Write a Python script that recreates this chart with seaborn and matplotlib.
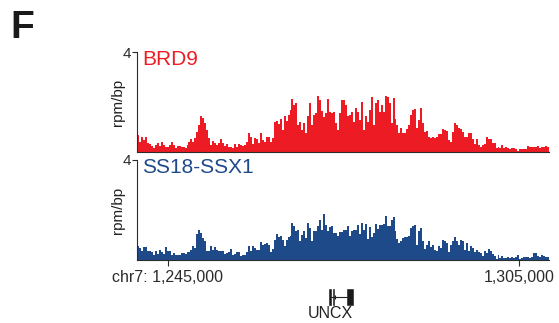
import numpy as np
import pandas as pd
import seaborn as sns
import matplotlib
matplotlib.use("Agg")
import matplotlib.pyplot as plt

# ---------------- data ----------------
region_start = 1239760
region_end = 1310120
x_ticks = [1245000, 1305000]
x_tick_labels = ["chr7: 1,245,000", "1,305,000"]

track_names = ["BRD9", "SS18-SSX1"]
track_colors = ["#ED1C24", "#1F4A8A"]

brd9 = [
    0.68, 0.41, 0.60, 0.48, 0.60, 0.35, 0.32, 0.24, 0.15, 0.28,
    0.37, 0.24, 0.39, 0.28, 0.21, 0.19, 0.28, 0.39, 0.28, 0.15,
    0.24, 0.24, 0.19, 0.21, 0.15, 0.28, 0.41, 0.51, 0.41, 0.55,
    0.81, 1.08, 1.44, 1.35, 1.17, 0.88, 0.55, 0.28, 0.44, 0.35,
    0.28, 0.37, 0.52, 0.35, 0.24, 0.32, 0.21, 0.19, 0.15, 0.31,
    0.21, 0.32,
    0.28, 0.24, 0.28, 0.41, 0.75, 0.61, 0.32, 0.57, 0.51, 0.35,
    0.75, 0.48, 0.41, 0.61, 0.61, 0.41, 0.55, 1.21, 1.24, 1.11,
    1.31, 0.88, 1.44, 1.24, 1.48, 1.68, 2.11, 1.88, 1.97, 1.08,
    1.21, 0.88, 1.15, 0.75, 1.44, 1.95, 1.08, 1.48, 1.57, 2.24,
    2.08, 1.65, 1.41, 1.55, 2.11, 1.61, 1.57, 1.61, 1.15, 0.88,
    1.55, 2.08,
    2.08, 1.88, 1.44, 1.48, 1.61, 1.21, 1.75, 1.61, 1.28, 1.99,
    0.88, 1.44, 1.19, 1.68, 2.19, 1.08, 1.95, 2.08, 1.61, 1.88,
    1.61, 2.24, 2.19, 1.97, 1.15, 2.15, 1.31, 1.08, 0.75, 0.95,
    0.77, 0.75, 0.91, 1.08, 1.48, 1.68, 1.71, 0.95, 1.28, 1.75,
    1.15, 0.81, 0.85, 0.61, 0.55, 0.61, 0.55, 0.61, 0.71, 0.71,
    0.91, 0.88,
    0.85, 0.48, 0.41, 0.81, 1.17, 1.08, 0.95, 0.91, 0.79, 0.61,
    0.59, 0.75, 0.77, 0.51, 0.32, 0.51, 0.28, 0.21, 0.28, 0.31,
    0.59, 0.51, 0.51, 0.35, 0.35, 0.15, 0.19, 0.15, 0.28, 0.15,
    0.19, 0.15, 0.11, 0.15, 0.15, 0.11, 0.05, 0.11, 0.12, 0.12,
    0.11, 0.24, 0.19, 0.19, 0.21, 0.21, 0.24, 0.15, 0.19, 0.19,
    0.24, 0.21,
]

ss18_ssx1 = [
    0.55, 0.48, 0.35, 0.51, 0.51, 0.35, 0.35, 0.31, 0.21, 0.35,
    0.24, 0.39, 0.31, 0.24, 0.51, 0.35, 0.37, 0.21, 0.28, 0.19,
    0.21, 0.19, 0.28, 0.28, 0.24, 0.31, 0.32, 0.41, 0.55, 0.48,
    1.04, 1.21, 1.08, 0.88, 0.75, 0.37, 0.35, 0.55, 0.41, 0.51,
    0.41, 0.37, 0.35, 0.35, 0.24, 0.28, 0.31, 0.44, 0.19, 0.24,
    0.31, 0.31,
    0.15, 0.21, 0.21, 0.32, 0.55, 0.35, 0.55, 0.48, 0.41, 0.41,
    0.71, 0.61, 0.64, 0.68, 0.59, 0.32, 0.45, 0.81, 1.04, 0.91,
    0.97, 0.81, 0.55, 0.81, 0.91, 0.97, 1.48, 1.35, 1.15, 1.21,
    0.75, 0.99, 1.17, 0.88, 1.48, 1.28, 0.77, 1.17, 1.15, 1.35,
    1.61, 1.21, 1.84, 1.41, 1.17, 1.31, 1.35, 1.08, 1.08, 0.95,
    1.12, 1.10,
    1.19, 1.19, 1.35, 0.97, 1.15, 1.19, 1.21, 1.41, 1.04, 1.48,
    1.21, 1.44, 0.85, 1.31, 0.91, 1.08, 1.44, 1.25, 1.41, 1.39,
    1.44, 1.75, 1.35, 1.35, 1.61, 1.71, 1.15, 0.85, 0.68, 0.77,
    0.88, 0.92, 0.92, 0.95, 1.28, 1.37, 1.39, 0.61, 1.15, 1.28,
    0.77, 0.44, 0.61, 0.77, 0.51, 0.59, 0.41, 0.37, 0.55, 0.48,
    0.79, 0.75,
    0.68, 0.32, 0.61, 0.77, 0.91, 0.77, 0.61, 0.81, 0.75, 0.41,
    0.68, 0.35, 0.57, 0.48, 0.32, 0.41, 0.32, 0.28, 0.15, 0.37,
    0.28, 0.44, 0.37, 0.24, 0.15, 0.05, 0.19, 0.08, 0.15, 0.08,
    0.08, 0.11, 0.08, 0.11, 0.08, 0.11, 0.19, 0.05, 0.08, 0.11,
    0.11, 0.11, 0.08, 0.11, 0.28, 0.28, 0.15, 0.11, 0.19, 0.15,
    0.11, 0.12,
]

y_max = 4

gene_name = "UNCX"
gene_exon_starts = [1272580, 1273160, 1275560]
gene_exon_ends = [1272820, 1273390, 1276690]

# ---------------- style ----------------
sns.set_style("ticks")
plt.rcParams["font.family"] = ["Liberation Sans", "DejaVu Sans"]
plt.rcParams["axes.linewidth"] = 0.8

W, H = 559, 323
fig = plt.figure(figsize=(W / 100, H / 100), dpi=100)

def fig_rect(left, top, right, bottom):
    return [left / W, 1 - bottom / H, (right - left) / W, (bottom - top) / H]

panel_rects = [fig_rect(137, 52, 549, 152), fig_rect(137, 160, 549, 260)]
spine_color = "#2b2b2b"

for i, (name, color, vals) in enumerate(zip(track_names, track_colors, [brd9, ss18_ssx1])):
    ax = fig.add_axes(panel_rects[i])
    n = len(vals)
    step = (region_end - region_start) / n
    centers = region_start + step * (np.arange(n) + 0.5)
    df = pd.DataFrame({"pos": centers, "signal": vals})
    sns.histplot(data=df, x="pos", weights="signal", bins=n,
                 binrange=(region_start, region_end),
                 element="step", fill=True, color=color, alpha=1,
                 linewidth=0, ax=ax)
    ax.set_xlim(region_start, region_end)
    ax.set_ylim(0, y_max)
    ax.set_yticks([y_max])
    ax.set_yticklabels([str(y_max)], fontsize=11)
    ax.tick_params(axis="y", length=3.5, width=0.8, pad=1, colors=spine_color)
    ax.set_ylabel("rpm/bp", fontsize=11, labelpad=1, color="#222222")
    ax.yaxis.set_label_coords(-0.028, 0.5)
    for s in ["top", "right"]:
        ax.spines[s].set_visible(False)
    for s in ["left", "bottom"]:
        ax.spines[s].set_color(spine_color)
        ax.spines[s].set_linewidth(0.8)
    ax.text(0.012, 1.02, name, transform=ax.transAxes, color=color,
            fontsize=15, va="top", ha="left")
    if i == 0:
        ax.set_xticks([])
        ax.set_xlabel("")
    else:
        ax.set_xticks(x_ticks)
        ax.set_xticklabels(x_tick_labels, fontsize=11.5, color="#222222")
        ax.tick_params(axis="x", length=4, width=0.8, pad=3, colors=spine_color)
        ax.set_xlabel("")

# gene track
gax = fig.add_axes(fig_rect(137, 285, 549, 323))
gax.set_xlim(region_start, region_end)
gax.set_ylim(0, 1)
gax.axis("off")
gax.plot([gene_exon_ends[0], gene_exon_starts[-1]], [0.684, 0.684],
         color="#222222", lw=0.8)
gax.broken_barh([(s, e - s) for s, e in zip(gene_exon_starts, gene_exon_ends)],
                (0.47, 0.43), facecolors="#1a1a1a", edgecolors="#1a1a1a",
                linewidth=0.4)
gax.plot([(gene_exon_ends[1] + gene_exon_starts[2]) / 2 - 900], [0.684],
         marker="|", ms=3, color="#222222", mew=0.8)
gax.text(gene_exon_starts[0] + 180, 0.26, gene_name, ha="center", va="center",
         fontsize=11.5, color="#222222")

fig.text(10 / W, 1 - 38 / H, "F", fontsize=28, fontweight="bold",
         ha="left", va="baseline", color="#1a1a1a")

fig.savefig("out.png", dpi=100)
